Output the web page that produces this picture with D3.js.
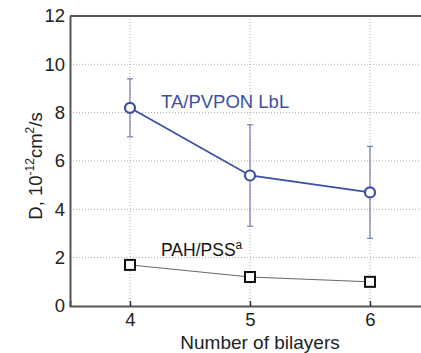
<!DOCTYPE html>
<html><head><meta charset="utf-8">
<script src="https://cdn.jsdelivr.net/npm/d3@7"></script>
<style>body{margin:0;background:#fff}svg{display:block}</style>
</head><body>
<script>
const bilayers = [4, 5, 6];
const taValues = [8.2, 5.4, 4.7];
const taErrHigh = [9.4, 7.5, 6.6];
const taErrLow = [7.0, 3.3, 2.8];
const pahValues = [1.7, 1.2, 1.0];
const yTicks = [0, 2, 4, 6, 8, 10, 12];
const xTicks = [4, 5, 6];

const W = 421, H = 353;
const svg = d3.select("body").append("svg").attr("width", W).attr("height", H);
const x = d3.scaleLinear().domain([3.5, 6.5]).range([70, 430]);
const y = d3.scaleLinear().domain([0, 12]).range([306, 16]);
const font = "Arial, 'Liberation Sans', sans-serif";
const blue = "#3d4fa3";

// grid
const g = svg.append("g");
g.selectAll(".gy").data(yTicks.filter(d => d > 0 && d < 12)).enter().append("line")
  .attr("x1", 70).attr("x2", 430).attr("y1", d => y(d)).attr("y2", d => y(d))
  .attr("stroke", "#aaa").attr("stroke-width", 1).attr("stroke-dasharray", "1,2");
g.selectAll(".gx").data(xTicks).enter().append("line")
  .attr("x1", d => x(d)).attr("x2", d => x(d)).attr("y1", 16).attr("y2", 306)
  .attr("stroke", "#aaa").attr("stroke-width", 1).attr("stroke-dasharray", "1,2");

// axes
const xAxis = svg.append("g").attr("transform", "translate(0,306)")
  .call(d3.axisBottom(x).tickValues(xTicks).tickSize(-5).tickPadding(7).tickFormat(d3.format("d")));
const yAxis = svg.append("g").attr("transform", "translate(70,0)")
  .call(d3.axisLeft(y).tickValues(yTicks).tickSize(0).tickPadding(5));
[xAxis, yAxis].forEach(a => {
  a.select(".domain").attr("stroke", "#555").attr("stroke-width", 2);
  a.selectAll(".tick line").attr("stroke", "#333").attr("stroke-width", 1.5);
  a.selectAll("text").attr("font-family", font).attr("font-size", 18.5).attr("fill", "#222");
});
// top border
svg.append("line").attr("x1", 70).attr("x2", 430).attr("y1", 16).attr("y2", 16)
  .attr("stroke", "#555").attr("stroke-width", 2);

// PAH/PSS line
const line = d3.line().x((d, i) => x(bilayers[i])).y(d => y(d));
svg.append("path").datum(pahValues).attr("d", line).attr("fill", "none")
  .attr("stroke", "#666").attr("stroke-width", 1);
svg.selectAll(".sq").data(pahValues).enter().append("rect")
  .attr("x", (d, i) => x(bilayers[i]) - 5).attr("y", d => y(d) - 5)
  .attr("width", 10).attr("height", 10).attr("fill", "#fff")
  .attr("stroke", "#111").attr("stroke-width", 2);

// TA/PVPON error bars
const eb = svg.append("g").attr("stroke", "#6f7cc0").attr("stroke-width", 1.2);
bilayers.forEach((b, i) => {
  eb.append("line").attr("x1", x(b)).attr("x2", x(b)).attr("y1", y(taErrHigh[i])).attr("y2", y(taErrLow[i]));
  eb.append("line").attr("x1", x(b) - 3).attr("x2", x(b) + 3).attr("y1", y(taErrHigh[i])).attr("y2", y(taErrHigh[i]));
  eb.append("line").attr("x1", x(b) - 3).attr("x2", x(b) + 3).attr("y1", y(taErrLow[i])).attr("y2", y(taErrLow[i]));
});
svg.append("path").datum(taValues).attr("d", line).attr("fill", "none")
  .attr("stroke", blue).attr("stroke-width", 1.8);
svg.selectAll(".ci").data(taValues).enter().append("circle")
  .attr("cx", (d, i) => x(bilayers[i])).attr("cy", d => y(d)).attr("r", 5)
  .attr("fill", "#fff").attr("stroke", blue).attr("stroke-width", 2.2);

// labels
svg.append("text").attr("x", 161).attr("y", 108).attr("font-family", font)
  .attr("font-size", 18.5).attr("fill", blue).text("TA/PVPON LbL");
const pt = svg.append("text").attr("x", 161).attr("y", 256).attr("font-family", font)
  .attr("font-size", 17.5).attr("fill", "#111");
pt.append("tspan").text("PAH/PSS");
pt.append("tspan").attr("dy", -7).attr("font-size", 12).text("a");

svg.append("text").attr("x", 260).attr("y", 349).attr("text-anchor", "middle")
  .attr("font-family", font).attr("font-size", 19).attr("fill", "#222").text("Number of bilayers");

const yl = svg.append("text").attr("transform", "translate(42,166) rotate(-90)")
  .attr("text-anchor", "middle").attr("font-family", font).attr("font-size", 18.5).attr("fill", "#222");
yl.append("tspan").text("D, 10");
yl.append("tspan").attr("dy", -8).attr("font-size", 12).text("-12");
yl.append("tspan").attr("dy", 8).text("cm");
yl.append("tspan").attr("dy", -8).attr("font-size", 12).text("2");
yl.append("tspan").attr("dy", 8).text("/s");
</script>
</body></html>
